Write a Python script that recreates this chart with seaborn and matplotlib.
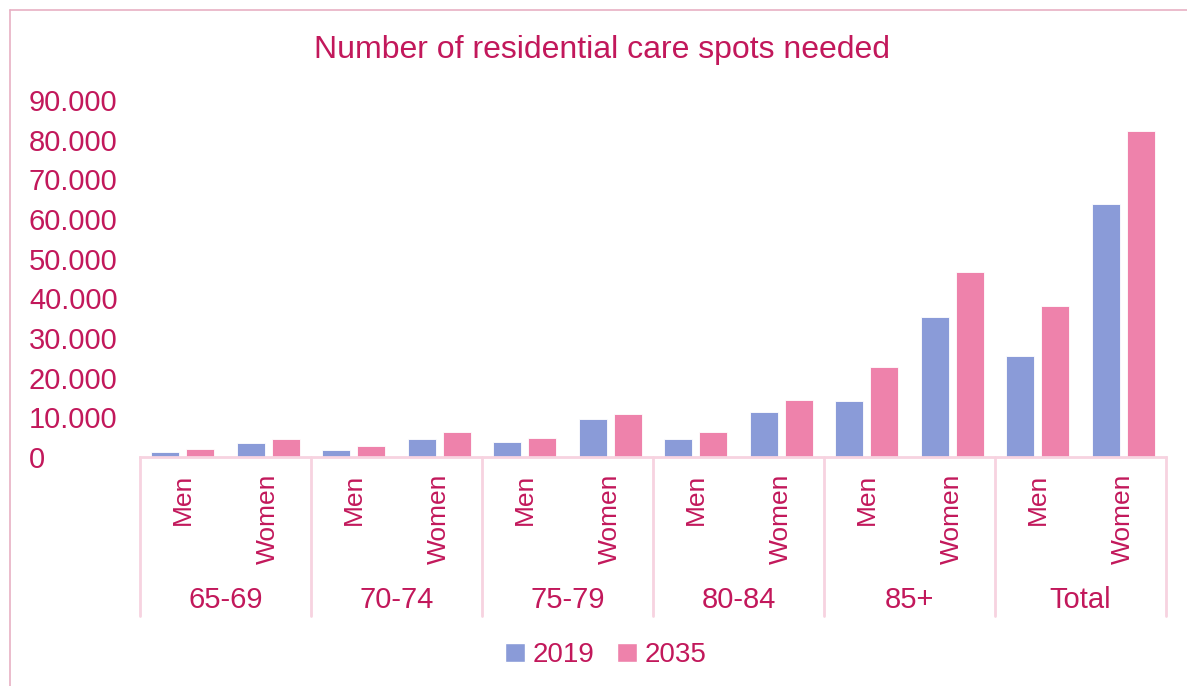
import matplotlib
matplotlib.use("Agg")
import matplotlib.pyplot as plt
import matplotlib.transforms as mtransforms
from matplotlib.ticker import FuncFormatter
from matplotlib.patches import Rectangle
from matplotlib.lines import Line2D
import seaborn as sns
import pandas as pd

age_groups = ["65-69", "70-74", "75-79", "80-84", "85+", "Total"]
sexes = ["Men", "Women"]
years = ["2019", "2035"]
values_2019 = [1300, 3450, 1850, 4450, 3850, 9500, 4550, 11350, 14100, 35300, 25400, 63700]
values_2035 = [1900, 4450, 2800, 6200, 4800, 10750, 6200, 14350, 22700, 46650, 38150, 82200]
y_ticks = [0, 10000, 20000, 30000, 40000, 50000, 60000, 70000, 80000, 90000]

TEXT = "#C2185B"
BLUE = "#8A9BD8"
PINK = "#EE82AB"
GRID = "#F7D3E0"
FRAME = "#E8B0C4"

cats = [f"{a} {s}" for a in age_groups for s in sexes]
rows = []
for c, v in zip(cats, values_2019):
    rows.append({"cat": c, "year": years[0], "value": v})
for c, v in zip(cats, values_2035):
    rows.append({"cat": c, "year": years[1], "value": v})
df = pd.DataFrame(rows)

sns.set_theme(style="white")
plt.rcParams["font.family"] = ["Liberation Sans", "DejaVu Sans"]

fig = plt.figure(figsize=(11.87, 6.86), dpi=100)
ax = fig.add_axes([140 / 1187, 1 - 457 / 686, (1166 - 140) / 1187, (457 - 100) / 686])

sns.barplot(data=df, x="cat", y="value", hue="year", order=cats, hue_order=years,
            palette=[BLUE, PINK], saturation=1, width=0.82, gap=0.2, ax=ax,
            edgecolor="white", linewidth=0.6, legend=False)

ax.set_ylim(0, 90000)
ax.set_xlim(-0.5, len(cats) - 0.5)
ax.set_yticks(y_ticks)
ax.yaxis.set_major_formatter(FuncFormatter(lambda v, p: f"{int(v):,}".replace(",", ".")))
ax.tick_params(axis="y", length=0, labelsize=21, labelcolor=TEXT, pad=80)
for lbl in ax.get_yticklabels():
    lbl.set_horizontalalignment("left")
ax.set_xticks(range(len(cats)))
ax.set_xticklabels([s for a in age_groups for s in sexes], rotation=90,
                   fontsize=19, color=TEXT)
ax.tick_params(axis="x", length=0, pad=12)
ax.set_xlabel("")
ax.set_ylabel("")
for s in ["left", "right", "top"]:
    ax.spines[s].set_visible(False)
ax.spines["bottom"].set_color(GRID)
ax.spines["bottom"].set_linewidth(2)

trans = mtransforms.blended_transform_factory(ax.transData, ax.transAxes)
sep_bottom = -(616 - 457) / (457 - 100)
for i in range(len(age_groups) + 1):
    xb = -0.5 + 2 * i
    ax.add_line(Line2D([xb, xb], [0, sep_bottom], transform=trans, color=GRID,
                       lw=2, clip_on=False))
for i, g in enumerate(age_groups):
    ax.text(2 * i + 0.5, -(600 - 457) / (457 - 100), g, transform=trans,
            ha="center", va="center", fontsize=21, color=TEXT)

fig.text(602 / 1187, 1 - 50 / 686, "Number of residential care spots needed",
         ha="center", va="center", fontsize=23, color=TEXT)

handles = [Rectangle((0, 0), 1, 1, facecolor=BLUE), Rectangle((0, 0), 1, 1, facecolor=PINK)]
fig.legend(handles, years, loc="center", bbox_to_anchor=(606 / 1187, 1 - 655 / 686),
           ncol=2, frameon=False, fontsize=20, labelcolor=TEXT,
           handlelength=0.7, handleheight=0.7, handletextpad=0.3, columnspacing=0.8)

fig.add_artist(Line2D([10 / 1187, 10 / 1187], [0, 1 - 10 / 686], transform=fig.transFigure,
                      color=FRAME, lw=1.2))
fig.add_artist(Line2D([10 / 1187, 1], [1 - 10 / 686, 1 - 10 / 686], transform=fig.transFigure,
                      color=FRAME, lw=1.2))

fig.savefig("out.png", dpi=100, facecolor="white")
